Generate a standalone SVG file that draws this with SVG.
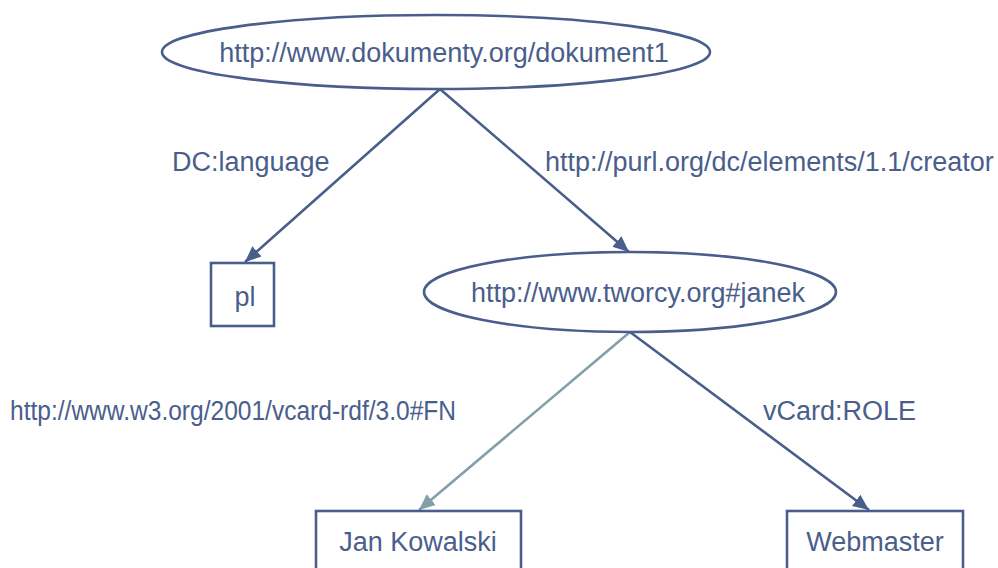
<svg xmlns="http://www.w3.org/2000/svg" width="998" height="568" viewBox="0 0 998 568">
  <style>
    .shape { fill: #ffffff; stroke: #4a5e8c; stroke-width: 2.6; }
    .label { font-family: "Liberation Sans", Arial, sans-serif; font-size: 27px; fill: #4a5e8c; }
    .mid { text-anchor: middle; }
    .edge { fill: none; stroke: #4a5e8c; stroke-width: 2.6; }
    .edge.light { stroke: #849faa; }
  </style>
  <defs>
    <marker id="arrow" markerUnits="userSpaceOnUse" markerWidth="18" markerHeight="16" viewBox="0 0 18 16" refX="16" refY="8" orient="auto">
      <path d="M0,1 L16,8 L0,15 z" fill="#4a5e8c"/>
    </marker>
    <marker id="arrow-light" markerUnits="userSpaceOnUse" markerWidth="18" markerHeight="16" viewBox="0 0 18 16" refX="16" refY="8" orient="auto">
      <path d="M0,1 L16,8 L0,15 z" fill="#849faa"/>
    </marker>
  </defs>

  <rect width="998" height="568" fill="#ffffff"/>

  <!-- connectors -->
  <g id="connectors">
    <line class="edge" x1="440" y1="89" x2="245" y2="262" marker-end="url(#arrow)"/>
    <line class="edge" x1="440" y1="89" x2="629" y2="252" marker-end="url(#arrow)"/>
    <line class="edge light" x1="630" y1="332" x2="419" y2="510" marker-end="url(#arrow-light)"/>
    <line class="edge" x1="630" y1="332" x2="869" y2="510" marker-end="url(#arrow)"/>
    <text class="label" x="172" y="171">DC:language</text>
    <text class="label" x="545" y="171">http://purl.org/dc/elements/1.1/creator</text>
    <text class="label" x="10" y="420" textLength="446" lengthAdjust="spacingAndGlyphs">http://www.w3.org/2001/vcard-rdf/3.0#FN</text>
    <text class="label" x="763" y="420">vCard:ROLE</text>
  </g>

  <!-- nodes -->
  <g id="dokument1">
    <ellipse class="shape" cx="436" cy="52" rx="274" ry="37"/>
    <text class="label mid" x="444" y="62">http://www.dokumenty.org/dokument1</text>
  </g>
  <g id="pl">
    <rect class="shape" x="211" y="263" width="63" height="63"/>
    <text class="label mid" x="245" y="306">pl</text>
  </g>
  <g id="janek">
    <ellipse class="shape" cx="630" cy="292" rx="206" ry="40"/>
    <text class="label mid" x="638" y="302">http://www.tworcy.org#janek</text>
  </g>
  <g id="jan-kowalski">
    <rect class="shape" x="316" y="511" width="205" height="70"/>
    <text class="label mid" x="418" y="551">Jan Kowalski</text>
  </g>
  <g id="webmaster">
    <rect class="shape" x="787" y="511" width="176" height="70"/>
    <text class="label mid" x="875" y="551">Webmaster</text>
  </g>
</svg>
